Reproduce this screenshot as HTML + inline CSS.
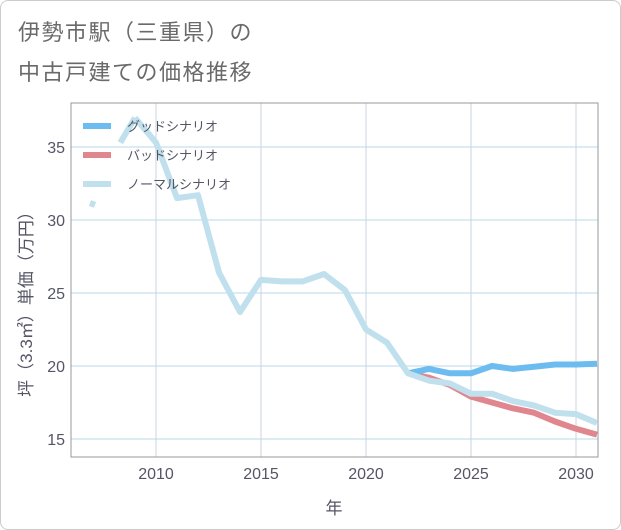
<!DOCTYPE html>
<html><head><meta charset="utf-8"><style>
body{margin:0;background:#fff;}
#wrap{position:relative;width:619px;height:528px;border:1px solid #ccc;border-radius:8px;overflow:hidden;font-family:"Liberation Sans","Noto Sans CJK JP",sans-serif;}
.title{position:absolute;left:17px;font-size:22px;color:#6a6a6a;letter-spacing:1.5px;}
</style></head><body>
<div id="wrap">
<div class="title" style="top:14px">伊勢市駅（三重県）の</div>
<div class="title" style="top:54px">中古戸建ての価格推移</div>
<svg id="chart" width="621" height="530" style="position:absolute;left:-1px;top:-1px"></svg>
</div>
<script>
const years=[2007,2008,2009,2010,2011,2012,2013,2014,2015,2016,2017,2018,2019,2020,2021,2022,2023,2024,2025,2026,2027,2028,2029,2030,2031];
const normal=[31.1,null,37.0,35.3,31.5,31.7,26.4,23.7,25.9,25.8,25.8,26.3,25.2,22.5,21.6,19.5,19.0,18.8,18.1,18.1,17.6,17.3,16.8,16.7,16.1];
const goodYears=[2022,2023,2024,2025,2026,2027,2028,2029,2030,2031];
const good=[19.5,19.8,19.5,19.5,20.0,19.8,19.95,20.1,20.1,20.15];
const bad=[19.5,19.2,18.7,17.9,17.5,17.1,16.8,16.2,15.7,15.3];
const xTicks=[2010,2015,2020,2025,2030];
const yTicks=[15,20,25,30,35];
const L=71,R=598,T=103,B=457;
const x=v=>156+(v-2010)*21;
const y=v=>366-(v-20)*14.6;
const svg=document.getElementById('chart');
const NS='http://www.w3.org/2000/svg';
function mk(t,a){const e=document.createElementNS(NS,t);for(const k in a)e.setAttribute(k,a[k]);svg.appendChild(e);return e;}
xTicks.forEach(t=>{const l=mk('line',{x1:x(t),x2:x(t),y1:T,y2:B,stroke:'#c8d6e2','stroke-width':1});


const tx=mk('text',{x:x(t),y:B+22,'text-anchor':'middle','font-size':16,fill:'#556','font-family':'Liberation Sans, sans-serif'});tx.textContent=t;

});
yTicks.forEach(t=>{const l=mk('line',{x1:L,x2:R,y1:y(t),y2:y(t),stroke:'#b8d8e8','stroke-width':1});


const tx=mk('text',{x:L-6,y:y(t)+6,'text-anchor':'end','font-size':16,fill:'#556','font-family':'Liberation Sans, sans-serif'});tx.textContent=t;

});
const box=mk('rect',{x:L,y:T,width:R-L,height:B-T,fill:'none',stroke:'#999','stroke-width':1});


const g=document.createElementNS(NS,'g');g.setAttribute('clip-path','url(#c)');svg.appendChild(g);
const cp=mk('clipPath',{id:'c'});const cr=document.createElementNS(NS,'rect');['x','y','width','height'].forEach((k,i)=>cr.setAttribute(k,[L,T,R-L,B-T][i]));cp.appendChild(cr);
function line(xs,ys,col,name){let segs=[],cur=[];xs.forEach((xv,i)=>{if(ys[i]==null){if(cur.length)segs.push(cur);cur=[];}else cur.push(x(xv)+','+y(ys[i]));});if(cur.length)segs.push(cur);
segs.forEach(s=>{let pts=s;if(s.length==1){const [a,b]=s[0].split(',').map(Number);pts=[(a-3)+','+(b-1),(a+2)+','+(b+1)];}
const p=document.createElementNS(NS,'polyline');p.setAttribute('points',pts.join(' '));p.setAttribute('fill','none');p.setAttribute('stroke',col);p.setAttribute('stroke-width',6);p.setAttribute('stroke-linejoin','round');


g.appendChild(p);});}
line(goodYears,bad,'#e0868e','bad-scenario-line');
line(goodYears,good,'#6cbcf0','good-scenario-line');
line(years,normal,'#bfe0ec','normal-scenario-line');
const seg=document.createElementNS(NS,'polyline');seg.setAttribute('points',x(2008.3)+','+y(35.3)+' '+x(2009)+','+y(37.0));seg.setAttribute('fill','none');seg.setAttribute('stroke','#bfe0ec');seg.setAttribute('stroke-width',6);


g.appendChild(seg);
const leg=[['グッドシナリオ','#6cbcf0'],['バッドシナリオ','#e0868e'],['ノーマルシナリオ','#bfe0ec']];
leg.forEach((d,i)=>{const yy=126+i*29;const l=mk('line',{x1:83,x2:111,y1:yy,y2:yy,stroke:d[1],'stroke-width':6});


const t=mk('text',{x:127,y:yy+5,'font-size':13,fill:'#556','font-family':'Liberation Sans, Noto Sans CJK JP, sans-serif'});t.textContent=d[0];

});
const xt=mk('text',{x:334,y:514,'text-anchor':'middle','font-size':17,fill:'#556','font-family':'Noto Sans CJK JP, sans-serif'});xt.textContent='年';


const yt=mk('text',{x:0,y:0,'text-anchor':'middle','font-size':17,fill:'#556','font-family':'Liberation Sans, Noto Sans CJK JP, sans-serif',transform:'translate(32,300) rotate(-90)'});yt.textContent='坪（3.3㎡）単価（万円）';


</script>
</body></html>
